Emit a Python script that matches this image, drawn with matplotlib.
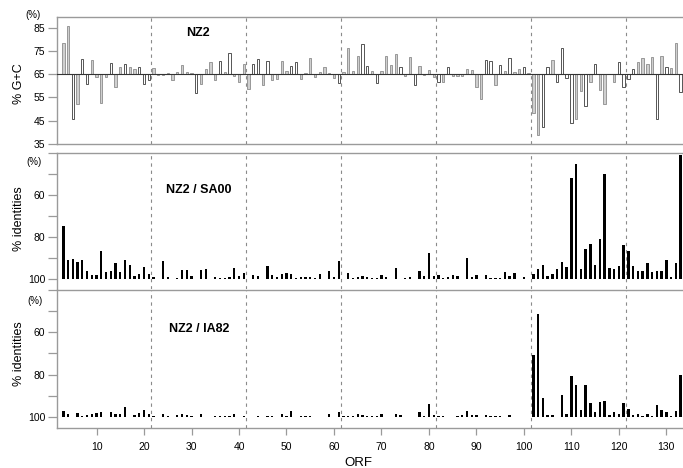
import matplotlib
matplotlib.use("Agg")
import matplotlib.pyplot as plt

plt.rcParams['font.family'] = ['Liberation Sans', 'DejaVu Sans']

# ORF numbers (one bar per ORF)
orf = list(range(3, 134))

# % G+C per ORF (baseline 65 %)
gc = [78.4, 85.8, 45.6, 52.2, 71.5, 60.7, 71.2, 64.0, 52.8, 63.7,
      70.0, 59.7, 67.9, 69.6, 68.3, 67.2, 68.3, 60.8, 62.6, 67.7,
      64.6, 64.6, 65.4, 62.6, 66.0, 69.0, 66.0, 65.6, 57.1, 60.8,
      67.2, 70.3, 62.6, 70.5, 66.0, 74.0, 64.3, 61.8, 69.5, 58.5,
      69.5, 71.5, 60.4, 70.6, 62.6, 63.0, 70.6, 66.4, 68.7, 70.3,
      63.1, 65.6, 71.9, 64.0, 65.9, 67.9, 65.6, 63.3, 61.1, 66.0,
      76.2, 66.4, 73.0, 77.9, 68.7, 66.4, 61.1, 66.4, 72.9, 68.9,
      73.6, 67.9, 64.4, 72.3, 60.4, 68.7, 64.6, 66.7, 64.0, 61.6,
      61.6, 68.3, 64.4, 64.4, 64.4, 67.2, 66.7, 59.4, 54.2, 71.0,
      70.5, 60.4, 69.0, 66.4, 71.9, 66.0, 67.4, 68.3, 65.6, 48.5,
      38.9, 42.4, 68.3, 70.9, 61.6, 76.2, 63.3, 44.2, 45.7, 58.0,
      51.4, 61.6, 69.5, 58.2, 52.2, 65.3, 61.6, 70.3, 59.4, 63.0,
      67.4, 70.3, 71.9, 69.5, 72.2, 45.6, 72.9, 67.9, 67.6, 78.4,
      57.5]

# bar style per ORF: g = grey filled, w = open
gc_style = ("ggwgwwgggg" "wggwggwwwg" "ggggggggwg" "gggwgwgggg" "wwgwggggww"
            "ggggggggwg" "gggwwgwggg" "gwggwggggw" "gwgggggggw" "wgwgwggwgg"
            "gwwgwwwwgg" "wgwggggwww" "wggggwgwgg" "w")

# % identities NZ2 / SA00
sa00 = [74.7, 90.8, 90.5, 91.9, 91.2, 96.4, 98.1, 98.1, 86.6, 96.7,
        96.4, 92.6, 96.5, 90.8, 93.2, 98.4, 97.6, 94.2, 97.6, 99.1,
        100, 91.5, 99.2, 100, 99.5, 95.9, 95.9, 98.6, 100, 95.7,
        95.3, 100, 99.2, 99.5, 99.5, 99.2, 94.8, 98.6, 97.0, 100,
        97.9, 98.7, 100, 93.7, 97.9, 99.0, 97.6, 97.0, 97.6, 99.5,
        99.2, 99.2, 99.2, 99.5, 97.5, 100, 96.0, 99.2, 91.3, 99.8,
        97.3, 99.5, 99.0, 98.6, 99.2, 99.5, 99.5, 98.1, 99.2, 100,
        94.9, 99.8, 99.5, 98.9, 100, 96.4, 98.7, 87.8, 98.4, 97.9,
        99.5, 99.2, 98.1, 98.7, 100, 90.0, 99.0, 97.9, 100, 97.9,
        99.4, 99.7, 99.7, 96.8, 98.7, 97.3, 100, 99.0, 99.8, 97.8,
        95.4, 93.4, 98.6, 97.8, 95.3, 91.9, 94.2, 52.1, 45.3, 95.3,
        85.6, 83.4, 93.2, 81.0, 49.8, 94.8, 95.3, 94.0, 83.7, 86.9,
        93.7, 96.0, 96.0, 92.6, 96.8, 96.4, 96.0, 91.0, 99.0, 92.6,
        41.0]

# % identities NZ2 / IA82
ia82 = [97.3, 98.4, 100, 98.0, 99.3, 99.2, 98.8, 98.0, 97.8, 100,
        97.5, 98.4, 98.8, 95.5, 100, 98.9, 98.2, 96.6, 98.4, 99.3,
        100, 98.4, 99.3, 100, 99.2, 98.4, 99.2, 99.4, 100, 98.6,
        100, 100, 99.6, 99.6, 99.4, 99.3, 98.4, 100, 99.6, 100,
        100, 99.3, 100, 99.4, 99.3, 100, 98.8, 99.3, 97.0, 100,
        99.6, 99.6, 99.6, 100, 100, 100, 98.8, 100, 97.8, 99.4,
        99.4, 99.4, 98.8, 99.1, 99.3, 99.4, 99.3, 98.4, 100, 100,
        98.8, 98.9, 100, 100, 100, 97.6, 99.6, 93.7, 99.2, 99.3,
        99.6, 100, 100, 99.4, 99.2, 97.2, 98.9, 98.9, 100, 98.9,
        99.3, 99.4, 99.4, 100, 99.2, 100, 100, 100, 99.8, 70.5,
        51.3, 91.0, 99.2, 99.1, 100, 89.8, 98.4, 80.7, 84.8, 96.5,
        84.8, 93.4, 97.5, 92.9, 92.5, 99.2, 97.6, 98.4, 93.6, 96.4,
        98.9, 98.6, 99.4, 98.4, 99.6, 94.2, 96.9, 97.8, 99.4, 97.0,
        80.0]

divisions = [21.5, 41.5, 61.5, 81.5, 101.5, 121.5]
x_ticks = [10, 20, 30, 40, 50, 60, 70, 80, 90, 100, 110, 120, 130]
gc_ticks = [35, 45, 55, 65, 75, 85]
id_ticks = [40, 50, 60, 70, 80, 90, 100]
id_labels = ['', '', '60', '', '80', '', '100']

W, H = 683, 468
fig = plt.figure(figsize=(W / 100, H / 100), dpi=100)


def rect(l, t, r, b):
    return [l / W, 1 - b / H, (r - l) / W, (b - t) / H]


SP = '#9a9a9a'
ax1 = fig.add_axes(rect(57, 17, 683, 144))
ax2 = fig.add_axes(rect(57, 153, 683, 289))
ax3 = fig.add_axes(rect(57, 290, 683, 428))

XL = (1.67, 133.5)
for ax in (ax1, ax2, ax3):
    ax.set_xlim(*XL)
    ax.spines['right'].set_visible(False)
    for s in ax.spines.values():
        s.set_color(SP)
        s.set_linewidth(1.0)
    ax.tick_params(axis='y', direction='out', length=6.5, width=0.9,
                   color=SP, labelsize=7.5, pad=2)
    for d in divisions:
        ax.axvline(d, color='#8a8a8a', lw=0.8, ls=(0, (3, 3.5)), zorder=0)

# top panel
base = 65
fills = ['#cfcfcf' if s == 'g' else 'white' for s in gc_style]
edges = ['#8c8c8c' if s == 'g' else '#3a3a3a' for s in gc_style]
ax1.bar(orf, [v - base for v in gc], bottom=base, width=0.5,
        color=fills, edgecolor=edges, linewidth=0.6, zorder=2)
ax1.axhline(base, color='#333333', lw=0.8, zorder=3)
ax1.set_ylim(35, 89.6)
ax1.set_yticks(gc_ticks)
ax1.set_xticks([])

# middle / bottom panels
for ax, vals, top in ((ax2, sa00, 104.8), (ax3, ia82, 105.2)):
    ax.bar(orf, [v - 100 for v in vals], bottom=100, width=0.5,
           color='black', linewidth=0, zorder=2)
    ax.set_ylim(top, 40)
    ax.set_yticks(id_ticks)
    ax.set_yticklabels(id_labels)

ax2.spines['bottom'].set_visible(False)
ax2.set_xticks([])
ax3.set_xticks(x_ticks)
ax3.tick_params(axis='x', direction='out', length=5, width=0.9, color=SP,
                labelsize=7.5, pad=5)

# texts
fig.text(33 / W, 1 - 15 / H, '(%)', fontsize=7, ha='center', va='center')
fig.text(34 / W, 1 - 162 / H, '(%)', fontsize=7, ha='center', va='center')
fig.text(35 / W, 1 - 301 / H, '(%)', fontsize=7, ha='center', va='center')
fig.text(19 / W, 1 - 84 / H, '% G+C', fontsize=9, rotation=90,
         ha='center', va='center')
fig.text(19 / W, 1 - 219 / H, '% identities', fontsize=9, rotation=90,
         ha='center', va='center')
fig.text(19 / W, 1 - 354 / H, '% identities', fontsize=9, rotation=90,
         ha='center', va='center')
fig.text(198 / W, 1 - 33 / H, 'NZ2', fontsize=9, fontweight='bold',
         ha='center', va='center')
fig.text(199 / W, 1 - 190 / H, 'NZ2 / SA00', fontsize=9, fontweight='bold',
         ha='center', va='center')
fig.text(199 / W, 1 - 329 / H, 'NZ2 / IA82', fontsize=9, fontweight='bold',
         ha='center', va='center')
fig.text(358 / W, 1 - 463 / H, 'ORF', fontsize=9.5, ha='center', va='center')

fig.savefig('out.png', dpi=100)
